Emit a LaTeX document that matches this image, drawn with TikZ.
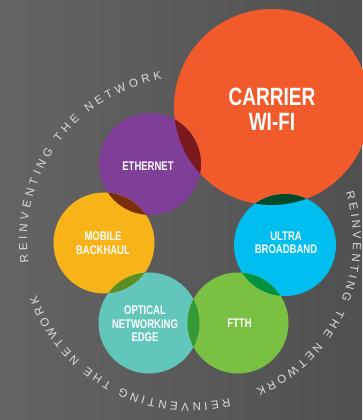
\documentclass[tikz,border=0pt]{standalone}
\usepackage{fontspec}
\setmainfont{Liberation Sans}
\newfontfamily\labfont[FakeStretch=0.76]{Liberation Sans}
\newfontfamily\ringfont{Liberation Sans}
\usetikzlibrary{decorations.text}
\definecolor{bgL}{RGB}{100,100,100}
\definecolor{bgR}{RGB}{80,80,80}
\definecolor{corange}{RGB}{241,90,43}
\definecolor{cpurple}{RGB}{127,63,152}
\definecolor{cyellow}{RGB}{248,179,24}
\definecolor{ccyan}{RGB}{0,190,240}
\definecolor{cteal}{RGB}{98,198,186}
\definecolor{cgreen}{RGB}{122,193,67}
\definecolor{xop}{RGB}{122,26,31}
\definecolor{xoc}{RGB}{0,74,42}
\definecolor{xpy}{RGB}{122,46,14}
\definecolor{xyt}{RGB}{94,141,32}
\definecolor{xtg}{RGB}{51,154,53}
\definecolor{xgc}{RGB}{0,146,63}
\definecolor{ringgray}{RGB}{222,222,222}
\begin{document}
\begin{tikzpicture}[x=1pt,y=1pt,
  blob/.style={circle, inner sep=0pt, outer sep=0pt, draw=none},
  lab/.style={text=white, align=center, inner sep=0pt, font=\labfont\bfseries\fontsize{12.5}{13.5}\selectfont},
  ring/.style={decorate, decoration={text along path, text align=fit to path, text color=ringgray,
     text={|\ringfont\fontsize{11.5}{12}\selectfont|REINVENTING THE NETWORK}}}]
\useasboundingbox (0,0) rectangle (362,420);
\shade[left color=bgL, right color=bgR] (0,0) rectangle (362,420);
% ring text
\coordinate (rc) at (190,180);
\path[ring] (rc) ++(188:163) arc[start angle=188, end angle=100, radius=163];
\path[ring] (rc) ++(17:163) arc[start angle=17, end angle=-66, radius=163];
\path[ring] (rc) ++(-76:163) arc[start angle=-76, end angle=-160, radius=163];
% circles
\node[blob, fill=corange, minimum size=196] (o) at (272,313) {};
\node[blob, fill=cpurple, minimum size=102] (p) at (150,256) {};
\node[blob, fill=cyellow, minimum size=101] (y) at (104,177) {};
\node[blob, fill=ccyan, minimum size=102] (c) at (285,175) {};
\node[blob, fill=cteal, minimum size=101] (t) at (149,97) {};
\node[blob, fill=cgreen, minimum size=101] (g) at (238,97) {};
% overlaps
\begin{scope}\clip (o.center) circle[radius=98]; \fill[xop] (p.center) circle[radius=51];\end{scope}
\begin{scope}\clip (o.center) circle[radius=98]; \fill[xoc] (c.center) circle[radius=51];\end{scope}
\begin{scope}\clip (p.center) circle[radius=51]; \fill[xpy] (y.center) circle[radius=50.5];\end{scope}
\begin{scope}\clip (y.center) circle[radius=50.5]; \fill[xyt] (t.center) circle[radius=50.5];\end{scope}
\begin{scope}\clip (t.center) circle[radius=50.5]; \fill[xtg] (g.center) circle[radius=50.5];\end{scope}
\begin{scope}\clip (g.center) circle[radius=50.5]; \fill[xgc] (c.center) circle[radius=51];\end{scope}
% labels
\node[lab, font=\labfont\bfseries\fontsize{25}{25}\selectfont] (lo) at (272,310.5) {CARRIER\\WI-FI};
\node[lab] (lp) at (148,253.5) {ETHERNET};
\node[lab] (ly) at (103,177) {MOBILE\\BACKHAUL};
\node[lab] (lc) at (286,177) {ULTRA\\BROADBAND};
\node[lab] (lt) at (145,96) {OPTICAL\\NETWORKING\\EDGE};
\node[lab] (lg) at (239.5,97) {FTTH};
\end{tikzpicture}
\end{document}
